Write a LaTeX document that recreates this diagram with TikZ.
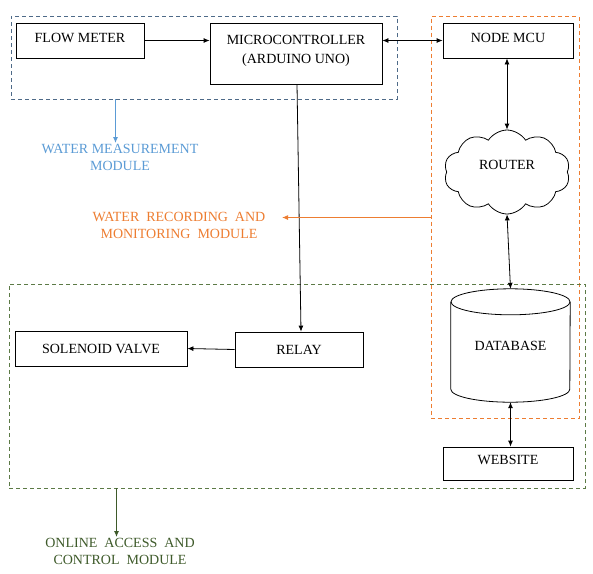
\documentclass[tikz,border=0pt]{standalone}
\usepackage{fontspec}
\setmainfont{Liberation Serif}
\usetikzlibrary{shapes.symbols,arrows.meta,calc}
\definecolor{mblue}{HTML}{5B9BD5}
\definecolor{mbluedash}{HTML}{4E6A88}
\definecolor{morange}{HTML}{ED7D31}
\definecolor{mgreen}{HTML}{3E5A2A}
\definecolor{mgreendash}{HTML}{5C7A46}
\begin{document}
\begin{tikzpicture}[x=1pt,y=-1pt,
  font=\fontsize{14}{19}\selectfont,
  blk/.style={draw=black,line width=0.8pt,inner sep=0pt,align=center},
  modbox/.style={draw,dash pattern=on 4pt off 3pt,line width=0.8pt,inner sep=0pt},
  conn/.style={line width=0.8pt,-{Latex[length=6pt,width=5pt]}},
  cconn/.style={line width=1.1pt,-{Latex[length=6pt,width=5pt]}},
  dconn/.style={line width=0.8pt,{Latex[length=6pt,width=5pt]}-{Latex[length=6pt,width=5pt]}},
  modlabel/.style={align=center,inner sep=1pt,font=\fontsize{14}{17}\selectfont}]
\useasboundingbox (0,0) rectangle (593,573);
% module boxes
\node[modbox,draw=mbluedash,minimum width=386pt,minimum height=83pt] (mm) at (204,57.5) {};
\node[modbox,draw=morange,minimum width=148pt,minimum height=402pt] (rm) at (505,217.5) {};
\node[modbox,draw=mgreendash,minimum width=576pt,minimum height=204pt] (om) at (297,386) {};
% blocks
\node[blk,minimum width=128pt,minimum height=35pt,text depth=6pt] (flow) at (80,40.5) {FLOW METER};
\node[blk,minimum width=172pt,minimum height=61pt,text depth=8pt] (micro) at (296,53.5) {MICROCONTROLLER\\(ARDUINO UNO)};
\node[blk,minimum width=130pt,minimum height=35pt,text depth=6pt] (mcu) at (508,40.5) {NODE MCU};
\node[cloud,draw,line width=0.8pt,cloud puffs=10,cloud puff arc=115,aspect=1.5,minimum width=126pt,minimum height=84pt,inner sep=0pt,text depth=14pt] (router) at (507,172) {ROUTER};
\node[minimum width=119pt,minimum height=113pt,inner sep=0pt] (db) at (510.5,345.5) {DATABASE};
\draw[line width=0.8pt] (db.north) ++(0,13) ellipse [x radius=59.5, y radius=13];
\draw[line width=0.8pt] ($(db.north west)+(0,13)$) -- ($(db.south west)+(0,-13)$)
  arc [start angle=180, end angle=0, x radius=59.5, y radius=13] -- ($(db.north east)+(0,13)$);
\node[blk,minimum width=130pt,minimum height=33pt,text depth=8pt] (web) at (508,463.5) {WEBSITE};
\node[blk,minimum width=172pt,minimum height=35pt] (sol) at (101,348.5) {SOLENOID VALVE};
\node[blk,minimum width=128pt,minimum height=35pt] (relay) at (299,349.5) {RELAY};
% labels
\node[modlabel,text=mblue] (wml) at (120,157.5) {WATER MEASUREMENT\\MODULE};
\node[modlabel,text=morange] (wrl) at (179,225) {WATER \ RECORDING \ AND\\MONITORING \ MODULE};
\node[modlabel,text=mgreen] (oal) at (120,551.5) {ONLINE \ ACCESS \ AND\\CONTROL \ MODULE};
% connectors
\draw[conn] (flow.east) -- (flow.east -| micro.west);
\draw[dconn] (micro.east |- mcu.west) -- (mcu.west);
\draw[dconn] (mcu.south -| router.north) -- (router.north);
\draw[dconn] (router.south) -- (db.north);
\draw[dconn] (db.south) -- (db.south |- web.north);
\draw[conn] ([xshift=1pt]micro.south) -- ([xshift=2pt]relay.north);
\draw[conn] (relay.west) -- (sol.east);
\coordinate (bstart) at ([xshift=-88.5pt]mm.south);
\draw[cconn,draw=mblue,fill=mblue] (bstart) -- (bstart |- wml.north);
\coordinate (otip) at (282,217.5);
\draw[cconn,draw=morange,fill=morange] (rm.west) -- (otip);
\coordinate (gstart) at ([xshift=-180.5pt]om.south);
\draw[cconn,draw=mgreen,fill=mgreen] (gstart) -- (gstart |- oal.north);
\end{tikzpicture}
\end{document}
